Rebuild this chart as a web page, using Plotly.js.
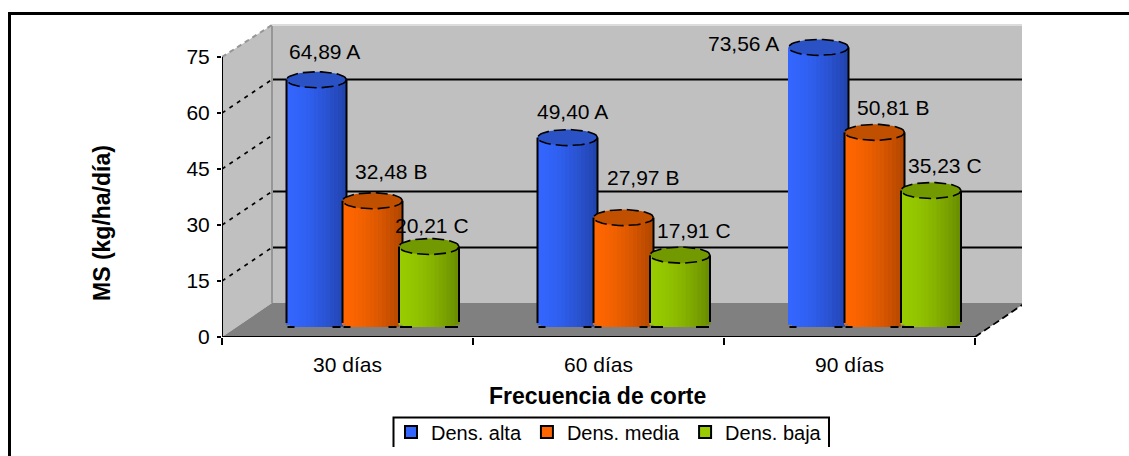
<!DOCTYPE html>
<html>
<head>
<meta charset="utf-8">
<script src="https://cdn.plot.ly/plotly-3.0.1.min.js"></script>
<style>html,body{margin:0;padding:0;background:#fff;overflow:hidden}#chart{width:1129px;height:456px}</style>
</head>
<body>
<div id="chart"></div>
<script>
// Dry matter yield by cutting frequency and planting density
const categories = ['30 días', '60 días', '90 días'];
const seriesNames = ['Dens. alta', 'Dens. media', 'Dens. baja'];
const altaValues = [64.89, 49.40, 73.56];
const mediaValues = [32.48, 27.97, 50.81];
const bajaValues = [20.21, 17.91, 35.23];
const altaGroups = ['A', 'A', 'A'];
const mediaGroups = ['B', 'B', 'B'];
const bajaGroups = ['C', 'C', 'C'];
const yTicks = [0, 15, 30, 45, 60, 75];
const backGridValues = [60, 30, 15];
const sideGridValues = [60, 45, 30, 15];

// Plot box in pixels, and how many pixels one axis unit takes
const box = {left: 222, right: 1022, top: 24, bottom: 337};
const W = 1129, H = 456;
const xUnit = 251, yUnit = 3.733;
const plotW = box.right - box.left, plotH = box.bottom - box.top;
const xu = px => px / xUnit;
const yu = px => px / yUnit;
const paperX = px => (px - box.left) / plotW;
const paperY = py => (box.bottom - py) / plotH;

// Oblique depth of the chart floor and walls
const depthX = xu(50), depthFloor = yu(34), depthGrid = yu(33.5), wallTop = 75 + yu(32);
const frontEnd = categories.length;

// Cylinder styling
const styles = [
  {light: [51, 102, 255], dark: [33, 66, 170], cap: '#2a52c4', offset: 94.5},
  {light: [255, 102, 0], dark: [176, 70, 0], cap: '#c05000', offset: 150.5},
  {light: [153, 204, 0], dark: [105, 140, 0], cap: '#739900', offset: 207}
];
const series = [
  {values: altaValues, groups: altaGroups},
  {values: mediaValues, groups: mediaGroups},
  {values: bajaValues, groups: bajaGroups}
];
const stripCount = 15, stripPx = 4, radiusPx = 30, capPx = 8, footPx = 5;
const floorLevel = yu(15);
// Where the first cylinder of the third cluster has no dark left edge
const leftEdgeShown = [[true, true, false], [true, true, true], [true, true, true]];

// Label placement relative to each cylinder's top, in pixels
const labelShift = [
  [[8, 28], [5, 26], [-75, 4]],
  [[18, 29], [19, 40], [18, 25]],
  [[3, 21], [14, 25], [14, 25]]
];

const mix = (a, b, t) => `rgb(${a.map((v, i) => Math.round(v + (b[i] - v) * t)).join(',')})`;
const decimal = v => v.toFixed(2).replace('.', ',');
const centre = (c, s) => c + xu(styles[s].offset);
const capLevel = v => v + floorLevel;

const traces = [];

// Cylinder bodies: each one is a run of narrow bars shaded left to right
series.forEach((ser, s) => {
  const x = [], y = [], base = [], color = [];
  ser.values.forEach((v, c) => {
    for (let i = 0; i < stripCount; i++) {
      const t = (i + 0.5) / stripCount;
      const foot = Math.min(capPx * Math.sqrt(1 - Math.pow(2 * t - 1, 2)), footPx);
      x.push(centre(c, s) + xu((t - 0.5) * stripCount * stripPx));
      base.push(floorLevel - yu(foot));
      y.push(capLevel(v) - (floorLevel - yu(foot)));
      color.push(mix(styles[s].light, styles[s].dark, Math.pow(t, 1.6)));
    }
  });
  // Strips overlap by a pixel so no seams open between them
  traces.push({type: 'bar', x, y, base, width: xu(stripPx + 1), showlegend: false, hoverinfo: 'skip',
    marker: {color, line: {width: 0}}});
});

// Caps and outlines, drawn back to front so nearer cylinders hide farther ones
series.forEach((ser, s) => {
  const capX = [], capY = [], edgeX = [], edgeY = [], ringX = [], ringY = [];
  const next = series[s + 1];
  ser.values.forEach((v, c) => {
    const cx = centre(c, s);
    for (let a = 0; a <= 40; a++) {
      const ang = a / 40 * 2 * Math.PI;
      capX.push(cx + xu(radiusPx * Math.cos(ang)));
      capY.push(capLevel(v) + yu(capPx * Math.sin(ang)));
      ringX.push(capX[capX.length - 1]);
      ringY.push(capY[capY.length - 1]);
    }
    capX.push(null); capY.push(null); ringX.push(null); ringY.push(null);
    if (leftEdgeShown[s][c]) {
      edgeX.push(cx - xu(radiusPx), cx - xu(radiusPx), null);
      edgeY.push(capLevel(v), floorLevel - yu(1), null);
    }
    const rightStop = next ? capLevel(next.values[c]) : floorLevel;
    edgeX.push(cx + xu(radiusPx), cx + xu(radiusPx), null);
    edgeY.push(capLevel(v), rightStop, null);
    // Short foot strokes near both sides of the base
    [[-29, -22], [16, 24]].forEach(seg => {
      const stop = next ? Math.min(seg[1], 24) : seg[1] + 5;
      edgeX.push(cx + xu(seg[0]), cx + xu(stop), null);
      edgeY.push(floorLevel - yu(footPx), floorLevel - yu(footPx), null);
    });
  });
  traces.push({type: 'scatter', mode: 'lines', x: capX, y: capY, fill: 'toself', fillcolor: styles[s].cap,
    line: {width: 0}, showlegend: false, hoverinfo: 'skip'});
  traces.push({type: 'scatter', mode: 'lines', x: ringX, y: ringY,
    line: {color: '#000', width: 1.6, dash: '12px,5px'}, showlegend: false, hoverinfo: 'skip'});
  traces.push({type: 'scatter', mode: 'lines', x: edgeX, y: edgeY,
    line: {color: '#000', width: 2}, showlegend: false, hoverinfo: 'skip'});
});

// Legend entries
seriesNames.forEach((name, s) => {
  traces.push({type: 'bar', x: [null], y: [null], name,
    marker: {color: mix(styles[s].light, styles[s].light, 0), line: {color: '#000', width: 2}}});
});

// Walls, floor and gridlines sit under every trace
const shapes = [];
const below = (path, fill) => shapes.push({type: 'path', xref: 'x', yref: 'y', layer: 'below', path,
  fillcolor: fill, line: {width: 0}});
const stroke = (x0, y0, x1, y1, color, width, dash) => shapes.push({type: 'line', xref: 'x', yref: 'y', layer: 'below',
  x0, y0, x1, y1, line: {color, width, dash: dash || 'solid'}});

below(`M${depthX},${depthFloor}L${frontEnd + depthX},${depthFloor}L${frontEnd + depthX},${wallTop}L${depthX},${wallTop}Z`, '#c0c0c0');
below(`M0,0L${depthX},${depthFloor}L${depthX},${wallTop}L0,75Z`, '#c0c0c0');
below(`M0,0L${frontEnd},0L${frontEnd + depthX},${depthFloor}L${depthX},${depthFloor}Z`, '#808080');
backGridValues.forEach(v => stroke(depthX, v + depthGrid, frontEnd + depthX, v + depthGrid, '#000', 2));
sideGridValues.forEach(v => stroke(0, v, depthX, v + depthGrid, '#000', 1.6, '4px,5px'));
stroke(depthX, depthFloor, depthX, wallTop, '#969696', 2);
stroke(depthX, wallTop, frontEnd + depthX, wallTop, '#dcdcdc', 2);
stroke(0, 75, depthX, wallTop, '#969696', 2, '5px,4px');
stroke(0, 0, 0, 75, '#000', 2);
stroke(0, 0, frontEnd, 0, '#000', 2);
stroke(frontEnd, 0, frontEnd + depthX, depthFloor, '#000', 1.8, '7px,4px');

// Outer frame and the open-bottomed legend box
const paperPath = (pts, color, width) => shapes.push({type: 'path', xref: 'paper', yref: 'paper', layer: 'above',
  path: pts.map((p, i) => `${i ? 'L' : 'M'}${paperX(p[0])},${paperY(p[1])}`).join(''), line: {color, width}});
paperPath([[9.5, 456], [9.5, 13.5], [1129, 13.5]], '#000', 3);
paperPath([[393.5, 447], [393.5, 417.5], [829, 417.5], [829, 447]], '#000', 2);

// Value labels come straight from the series values
const font = {family: '"Liberation Sans", Arial, sans-serif', color: '#000'};
const annotations = [];
series.forEach((ser, s) => ser.values.forEach((v, c) => {
  annotations.push({xref: 'x', yref: 'y', x: centre(c, s), y: capLevel(v), xanchor: 'center', yanchor: 'middle',
    xshift: labelShift[s][c][0], yshift: labelShift[s][c][1], showarrow: false,
    text: `${decimal(v)} ${ser.groups[c]}`, font: {...font, size: 21}});
}));
annotations.push({xref: 'paper', yref: 'paper', x: paperX(597), y: paperY(396), xanchor: 'center', yanchor: 'middle',
  showarrow: false, text: '<b>Frecuencia de corte</b>', font: {...font, size: 23}});
annotations.push({xref: 'paper', yref: 'paper', x: paperX(102), y: paperY(223), xanchor: 'center', yanchor: 'middle',
  textangle: -90, showarrow: false, text: '<b>MS (kg/ha/día)</b>', font: {...font, size: 23}});

const layout = {
  width: W, height: H, autosize: false,
  margin: {l: box.left, r: W - box.right, t: box.top, b: H - box.bottom, pad: 0, autoexpand: false},
  paper_bgcolor: '#fff', plot_bgcolor: 'rgba(0,0,0,0)',
  barmode: 'overlay', font, shapes, annotations,
  xaxis: {
    type: 'linear', range: [0, plotW / xUnit], showgrid: false, zeroline: false, showline: false,
    tickmode: 'array', tickvals: categories.map((_, i) => i + 0.5), ticktext: categories, ticks: '',
    tickfont: {...font, size: 21}, ticklabelstandoff: 13,
    minor: {tickmode: 'array', tickvals: [0, 1, 2, 3], ticks: 'outside', ticklen: 7, tickwidth: 2, tickcolor: '#000', showgrid: false},
    fixedrange: true
  },
  yaxis: {
    range: [0, plotH / yUnit], showgrid: false, zeroline: false, showline: false,
    tickmode: 'array', tickvals: yTicks, ticktext: yTicks.map(String), ticks: 'outside', ticklen: 4, tickwidth: 2, tickcolor: '#000',
    tickfont: {...font, size: 21}, ticklabelstandoff: 3, fixedrange: true
  },
  legend: {
    orientation: 'h', x: paperX(391), xanchor: 'left', y: paperY(432), yanchor: 'middle',
    bgcolor: 'rgba(0,0,0,0)', borderwidth: 0, font: {...font, size: 20}, itemclick: false, itemdoubleclick: false
  }
};

Plotly.newPlot('chart', traces, layout, {displayModeBar: false, staticPlot: true});
</script>
</body>
</html>
